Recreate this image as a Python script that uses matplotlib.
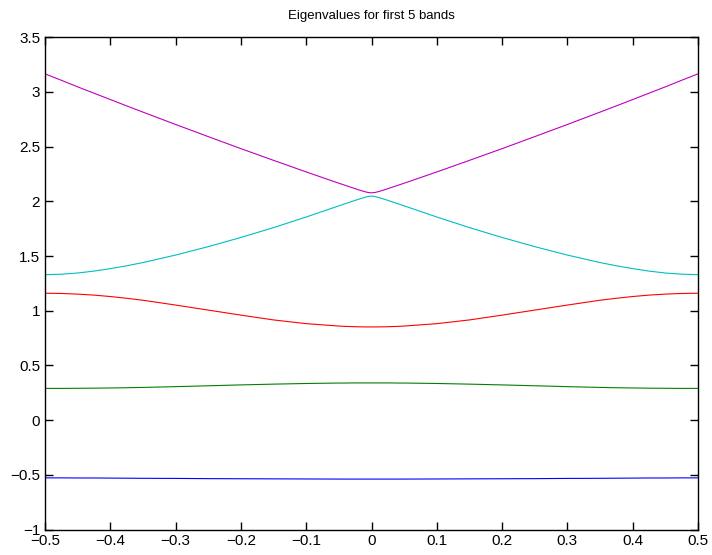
import matplotlib
matplotlib.use("Agg")
import matplotlib.pyplot as plt
from matplotlib.ticker import FixedLocator, FuncFormatter

plt.rcParams['font.family'] = ['Liberation Sans', 'DejaVu Sans']

k = [-0.5, -0.475, -0.45, -0.425, -0.4, -0.375, -0.35, -0.3, -0.25, -0.2, -0.15, -0.1, -0.05, -0.04, -0.03, -0.02, -0.015, -0.01, -0.005,
     0.0,
     0.005, 0.01, 0.015, 0.02, 0.03, 0.04, 0.05, 0.1, 0.15, 0.2, 0.25, 0.3, 0.35, 0.375, 0.4, 0.425, 0.45, 0.475, 0.5]

band1 = [-0.528, -0.528, -0.529, -0.529, -0.530, -0.531, -0.532, -0.533, -0.535, -0.536, -0.537, -0.538, -0.539, -0.539, -0.539, -0.539, -0.539, -0.539, -0.539,
         -0.539,
         -0.539, -0.539, -0.539, -0.539, -0.539, -0.539, -0.539, -0.538, -0.537, -0.536, -0.535, -0.533, -0.532, -0.531, -0.530, -0.529, -0.529, -0.528, -0.528]
band2 = [0.290, 0.290, 0.291, 0.292, 0.294, 0.296, 0.299, 0.306, 0.314, 0.322, 0.329, 0.335, 0.339, 0.339, 0.340, 0.340, 0.340, 0.340, 0.340,
         0.340,
         0.340, 0.340, 0.340, 0.340, 0.340, 0.339, 0.339, 0.335, 0.329, 0.322, 0.314, 0.306, 0.299, 0.296, 0.294, 0.292, 0.291, 0.290, 0.290]
band3 = [1.160, 1.158, 1.152, 1.143, 1.130, 1.114, 1.096, 1.052, 1.006, 0.960, 0.916, 0.882, 0.860, 0.857, 0.855, 0.853, 0.853, 0.852, 0.852,
         0.852,
         0.852, 0.852, 0.853, 0.853, 0.855, 0.857, 0.860, 0.882, 0.916, 0.960, 1.006, 1.052, 1.096, 1.114, 1.130, 1.143, 1.152, 1.158, 1.160]
band4 = [1.330, 1.334, 1.345, 1.3625, 1.385, 1.411, 1.4405, 1.509, 1.586, 1.670, 1.760, 1.857, 1.959, 1.979, 1.999, 2.019, 2.028, 2.037, 2.045,
         2.048,
         2.045, 2.037, 2.028, 2.019, 1.999, 1.979, 1.959, 1.857, 1.760, 1.670, 1.586, 1.509, 1.4405, 1.411, 1.385, 1.3625, 1.345, 1.334, 1.330]
band5 = [3.166, 3.107, 3.047, 2.989, 2.931, 2.873, 2.816, 2.703, 2.592, 2.482, 2.375, 2.269, 2.166, 2.146, 2.126, 2.106, 2.097, 2.088, 2.081,
         2.078,
         2.081, 2.088, 2.097, 2.106, 2.126, 2.146, 2.166, 2.269, 2.375, 2.482, 2.592, 2.703, 2.816, 2.873, 2.931, 2.989, 3.047, 3.107, 3.166]

bands = [band1, band2, band3, band4, band5]
colors = [(0, 0, 1), (0, 0.5, 0), (1, 0, 0), (0, 0.75, 0.75), (0.75, 0, 0.75)]

xticks = [-0.5, -0.4, -0.3, -0.2, -0.1, 0, 0.1, 0.2, 0.3, 0.4, 0.5]
yticks = [-1, -0.5, 0, 0.5, 1, 1.5, 2, 2.5, 3, 3.5]
title = "Eigenvalues for first 5 bands"

fig = plt.figure(figsize=(7.12, 5.55), dpi=100)
ax = fig.add_axes([45/712, 1 - 529.5/555, (698-45)/712, (529.5-37.3)/555])
for b, c in zip(bands, colors):
    ax.plot(k, b, color=c, linewidth=0.8)

ax.set_xlim(-0.5, 0.5)
ax.set_ylim(-1, 3.5)
ax.xaxis.set_major_locator(FixedLocator(xticks))
ax.yaxis.set_major_locator(FixedLocator(yticks))
fmt = FuncFormatter(lambda v, p: ('%g' % v).replace('-', '\u2212'))
ax.xaxis.set_major_formatter(fmt)
ax.yaxis.set_major_formatter(fmt)
ax.tick_params(direction='in', top=True, right=True, length=6, width=1,
               labelsize=11)
ax.tick_params(axis='y', pad=3.5)
ax.tick_params(axis='x', pad=3.5)
for s in ax.spines.values():
    s.set_linewidth(1)
ax.set_title(title, fontsize=9.5, pad=13)

fig.savefig("out.png", dpi=100)
